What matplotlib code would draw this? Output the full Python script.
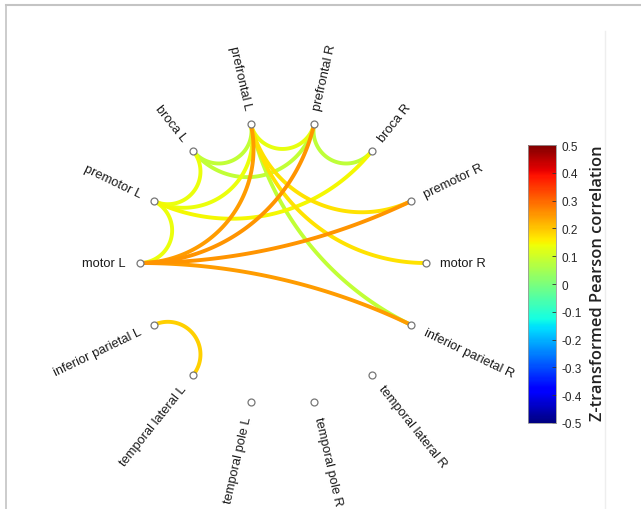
import numpy as np
import matplotlib
matplotlib.use('Agg')
import matplotlib.pyplot as plt
from matplotlib.colors import Normalize
from matplotlib.lines import Line2D

nodes = ['motor R', 'premotor R', 'broca R', 'prefrontal R', 'prefrontal L', 'broca L',
         'premotor L', 'motor L', 'inferior parietal L', 'temporal lateral L',
         'temporal pole L', 'temporal pole R', 'temporal lateral R', 'inferior parietal R']

edge_a = ['broca L', 'broca L', 'prefrontal R', 'prefrontal L', 'prefrontal L', 'broca L',
          'premotor L', 'premotor L', 'premotor L', 'prefrontal L', 'prefrontal L',
          'inferior parietal L', 'motor L', 'motor L', 'motor L', 'motor L']
edge_b = ['prefrontal L', 'prefrontal R', 'broca R', 'inferior parietal R', 'prefrontal R',
          'premotor L', 'prefrontal L', 'broca R', 'motor L', 'premotor R', 'motor R',
          'temporal lateral L', 'prefrontal L', 'prefrontal R', 'premotor R', 'inferior parietal R']
edge_r = [0.085, 0.085, 0.08, 0.085, 0.13, 0.135, 0.135, 0.145, 0.135, 0.17, 0.17,
          0.19, 0.245, 0.25, 0.25, 0.245]

cbar_ticks = [-0.5, -0.4, -0.3, -0.2, -0.1, 0, 0.1, 0.2, 0.3, 0.4, 0.5]
cbar_labels = ['-0.5', '-0.4', '-0.3', '-0.2', '-0.1', '0', '0.1', '0.2', '0.3', '0.4', '0.5']

W, H = 641, 510
cx, cy, R = 282.5, 264.0, 143.0

fig = plt.figure(figsize=(W / 100, H / 100), dpi=100)
ax = fig.add_axes([0, 0, 1, 1])
ax.set_xlim(-cx / R, (W - cx) / R)
ax.set_ylim((cy - H) / R, cy / R)
ax.axis('off')

cmap = plt.cm.jet
norm = Normalize(-0.5, 0.5)
theta = {n: 2 * np.pi * i / len(nodes) for i, n in enumerate(nodes)}


def arc(t1, t2):
    # geodesic arc orthogonal to the unit circle
    d = (t2 - t1 + np.pi) % (2 * np.pi) - np.pi
    if abs(abs(d) - np.pi) < 1e-6:
        return [np.cos(t1), np.cos(t2)], [np.sin(t1), np.sin(t2)]
    phi = t1 + d / 2
    half = abs(d) / 2
    c = np.array([np.cos(phi), np.sin(phi)]) / np.cos(half)
    r = np.tan(half)
    a1 = np.arctan2(np.sin(t1) - c[1], np.cos(t1) - c[0])
    a2 = np.arctan2(np.sin(t2) - c[1], np.cos(t2) - c[0])
    da = (a2 - a1 + np.pi) % (2 * np.pi) - np.pi
    s = np.linspace(a1, a1 + da, 120)
    return c[0] + r * np.cos(s), c[1] + r * np.sin(s)


order = np.argsort(edge_r)
for k in order:
    x, y = arc(theta[edge_a[k]], theta[edge_b[k]])
    ax.plot(x, y, color=cmap(norm(edge_r[k])), lw=2.8, solid_capstyle='butt', zorder=2)

for n in nodes:
    t = theta[n]
    ax.plot(np.cos(t), np.sin(t), 'o', ms=5, mfc='white', mec='#777777', mew=0.9, zorder=3)
    deg = np.degrees(t)
    if np.cos(t) > 0:
        rot, ha = deg, 'left'
    else:
        rot, ha = deg - 180, 'right'
    if rot > 180:
        rot -= 360
    ax.text(1.1 * np.cos(t), 1.1 * np.sin(t), n, rotation=rot, rotation_mode='anchor',
            ha=ha, va='center', fontsize=9.3, family='Liberation Sans', color='#1a1a1a')

# frame lines of the original screenshot
fig.add_artist(Line2D([6 / W, 1], [1 - 6 / H, 1 - 6 / H], color='#c4c4c4', lw=1.5))
fig.add_artist(Line2D([6 / W, 6 / W], [0, 1 - 6 / H], color='#c4c4c4', lw=1.2))
fig.add_artist(Line2D([605 / W, 605 / W], [0, 1 - 32 / H], color='#eeeeee', lw=1))

cax = fig.add_axes([528 / W, 1 - 424 / H, 28 / W, 278 / H])
sm = plt.cm.ScalarMappable(norm=norm, cmap=cmap)
cb = fig.colorbar(sm, cax=cax, ticks=cbar_ticks)
cb.ax.set_yticklabels(cbar_labels)
cb.ax.tick_params(direction='in', length=3, width=0.6, labelsize=8.5, colors='#333333',
                  labelcolor='#262626', pad=4)
for lab in cb.ax.get_yticklabels():
    lab.set_family('Liberation Sans')
cb.outline.set_edgecolor('#999999')
cb.outline.set_linewidth(0.6)
fig.text(598 / W, 1 - 283 / H, 'Z-transformed Pearson correlation', rotation=90,
         ha='center', va='center', fontsize=11.8, family='Open Sans', fontweight='semibold',
         color='#222222')

fig.savefig('out.png', dpi=100)
